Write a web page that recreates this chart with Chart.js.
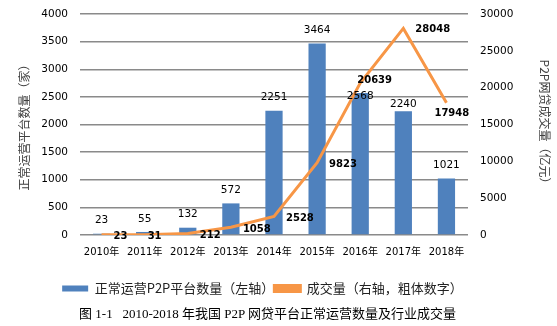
<!DOCTYPE html>
<html>
<head>
<meta charset="utf-8">
<script src="https://cdn.jsdelivr.net/npm/chart.js@4.4.0/dist/chart.umd.min.js"></script>
<style>
  html, body { margin: 0; padding: 0; background: #fff; }
  #wrap { position: relative; width: 557px; height: 326px; }
  #grafica { position: absolute; left: 0; top: 0; }
  #pie { position: absolute; left: 0; width: 535px; top: 303px; text-align: center;
         font-family: "Liberation Serif", "Noto Sans CJK SC", serif; font-size: 13px; color: #000; white-space: pre; }
</style>
</head>
<body>
<div id="wrap">
  <canvas id="grafica" width="557" height="306"></canvas>
  <div id="pie">图 1-1   2010-2018 年我国 P2P 网贷平台正常运营数量及行业成交量</div>
</div>
<script>
var anios = ['2010年','2011年','2012年','2013年','2014年','2015年','2016年','2017年','2018年'];
var plataformas = [23, 55, 132, 572, 2251, 3464, 2568, 2240, 1021];
var volumen = [23, 31, 212, 1058, 2528, 9823, 20639, 28048, 17948];
var ticksIzq = [0, 500, 1000, 1500, 2000, 2500, 3000, 3500, 4000];
var ticksDer = [0, 5000, 10000, 15000, 20000, 25000, 30000];

var fuente = '"DejaVu Sans", "Noto Sans CJK SC", sans-serif';
var fuenteCJK = '"Noto Sans CJK SC", "DejaVu Sans", sans-serif';

// desplazamientos de etiquetas (como en el original, algunas movidas a mano)
var despBarra = [0, 0, 0, 0, 0, 0, 16, 6, 0];
var despLinea = [[12, 2], [3, 2], [12, 2], [12, 2], [12, 2], [12, 2], [-3, -3], [12, 1], [-12, 11]];

var etiquetas = {
  id: 'etiquetas',
  afterLayout: function (chart) {
    // la leyenda del original va algo corrida a la izquierda
    chart.legend.right = chart.width - 44;
  },
  afterDatasetsDraw: function (chart) {
    var ctx = chart.ctx;
    ctx.save();
    ctx.fillStyle = '#000';
    var barras = chart.getDatasetMeta(0).data;
    ctx.font = '10.5px ' + fuente;
    ctx.textAlign = 'center';
    ctx.textBaseline = 'middle';
    barras.forEach(function (b, i) {
      ctx.fillText(String(plataformas[i]), b.x, b.y - 13 + despBarra[i]);
    });
    var puntos = chart.getDatasetMeta(1).data;
    ctx.font = 'bold 10px ' + fuente;
    ctx.textAlign = 'left';
    puntos.forEach(function (p, i) {
      ctx.fillText(String(volumen[i]), p.x + despLinea[i][0], p.y + despLinea[i][1]);
    });
    ctx.restore();
  }
};

function numero(v) { return String(v); }
function ajusta(ancho) {
  return function (s) {
    s.width = ancho;
    s.paddingTop = 6;
    s.paddingBottom = 6;
  };
}

var mychart = new Chart(document.getElementById('grafica'), {
  type: 'bar',
  data: {
    labels: anios,
    datasets: [{
      label: '正常运营P2P平台数量（左轴）',
      data: plataformas,
      backgroundColor: '#4F81BD',
      borderWidth: 0,
      barPercentage: 0.4,
      categoryPercentage: 1,
      yAxisID: 'y',
      order: 2
    }, {
      type: 'line',
      label: '成交量（右轴，粗体数字）',
      data: volumen,
      borderColor: '#F79646',
      backgroundColor: '#F79646',
      borderWidth: 3,
      pointRadius: 0,
      tension: 0,
      yAxisID: 'y1',
      order: 1
    }]
  },
  options: {
    responsive: false,
    animation: false,
    layout: { padding: { top: 14, bottom: 1, left: 12, right: 0 } },
    plugins: {
      tooltip: { enabled: false },
      legend: {
        position: 'bottom',
        labels: {
          boxWidth: 26,
          boxHeight: 6,
          color: '#222',
          padding: 0,
          font: { family: fuenteCJK, size: 13 },
          sort: function (a, b) { return a.datasetIndex - b.datasetIndex; }
        }
      }
    },
    scales: {
      x: {
        grid: { display: false },
        border: { display: false },
        afterFit: function (s) { s.height += 21; },
        ticks: { color: '#000', padding: 3, font: { family: fuente, size: 10 } }
      },
      y: {
        position: 'left',
        min: 0, max: 4000,
        afterBuildTicks: function (s) { s.ticks = ticksIzq.map(function (v) { return { value: v }; }); },
        afterFit: ajusta(68),
        grid: { color: '#8a8a8a', lineWidth: 1.5, drawTicks: false },
        border: { display: false },
        ticks: { color: '#000', padding: 12, callback: numero, font: { family: fuente, size: 10.5 } },
        title: {
          display: true,
          text: '正常运营平台数量（家）',
          color: '#404040',
          padding: { top: 5, bottom: 0 },
          font: { family: fuenteCJK, size: 12 }
        }
      },
      y1: {
        position: 'right',
        min: 0, max: 30000,
        afterBuildTicks: function (s) { s.ticks = ticksDer.map(function (v) { return { value: v }; }); },
        afterFit: ajusta(89),
        grid: { display: false, drawTicks: false },
        border: { display: false },
        ticks: { color: '#000', padding: 12, callback: numero, font: { family: fuente, size: 10.5 } },
        title: {
          display: true,
          text: 'P2P网贷成交量（亿元）',
          color: '#404040',
          padding: { top: 5, bottom: 0 },
          font: { family: fuenteCJK, size: 12 }
        }
      }
    }
  },
  plugins: [etiquetas]
});
</script>
</body>
</html>
